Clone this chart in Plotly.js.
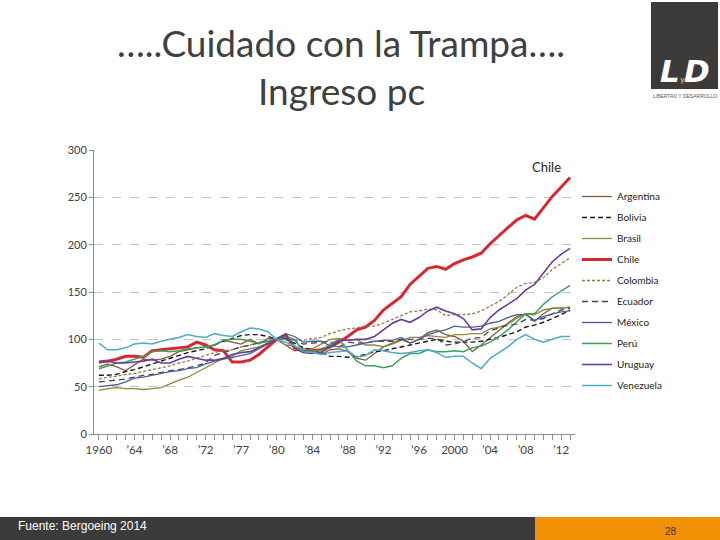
<!DOCTYPE html>
<html><head><meta charset="utf-8">
<script src="https://cdn.plot.ly/plotly-3.0.1.min.js"></script>
<style>html,body{margin:0;padding:0;background:#fff}#chart{width:720px;height:540px}</style>
</head><body><div id="chart"></div>
<script>
const years = [1960,1961,1962,1963,1964,1965,1966,1967,1968,1969,
  1970,1971,1972,1973,1974,1975,1976,1977,1978,1979,
  1980,1981,1982,1983,1984,1985,1986,1987,1988,1989,
  1990,1991,1992,1993,1994,1995,1996,1997,1998,1999,
  2000,2001,2002,2003,2004,2005,2006,2007,2008,2009,
  2010,2011,2012,2013];
const tickYears  = [1960,1964,1968,1972,1976,1980,1984,1988,1992,1996,2000,2004,2008,2012];
const tickLabels = ["1960","’64","’68","’72","’77","’80","’84","’88","’92","’96","2000","’04","’08","’12"];
const yTicks = [0,50,100,150,200,250,300];

const argentina = [71,74,71,67,73,79,78,79,82,87, 89,91,92,94,99,97,95,100,95,101,
  100,94,88,90,90,84,89,90,87,80, 78,85,92,96,100,96,100,107,110,105,
  103,98,87,94,102,110,117,124,127,119, 127,133,133,134];
const bolivia = [62,62,63,66,68,71,74,77,80,83, 86,88,90,94,98,101,104,105,105,103,
  100,100,96,91,89,86,82,82,81,82, 84,87,88,90,92,94,96,98,100,98,
  97,97,97,98,100,102,105,108,113,115, 118,122,126,131];
const brasil = [46,48,49,48,48,47,48,49,53,57, 60,65,70,75,80,82,88,90,92,96,
  100,94,93,88,90,95,100,101,99,100, 94,94,92,95,99,102,102,104,103,102,
  105,105,106,106,111,113,116,122,127,126, 131,133,133,134];
const chile = [76,77,79,82,82,81,88,89,90,91, 92,97,94,89,88,76,76,78,84,92,
  100,105,91,87,88,89,92,97,103,110, 113,120,131,138,145,158,167,175,177,174,
  180,184,187,191,201,210,218,226,231,227, 239,251,261,271];
const colombia = [58,60,61,63,64,66,68,70,72,75, 77,80,83,86,88,89,92,94,97,99,
  100,100,99,99,101,102,106,109,111,112, 114,114,117,121,125,129,130,132,131,125,
  126,126,127,130,135,140,147,155,159,160, 165,174,180,186];
const ecuador = [55,56,57,58,60,62,63,65,67,68, 70,72,75,83,86,89,92,94,96,98,
  100,101,99,95,96,97,98,92,97,96, 96,98,98,98,100,100,100,101,101,94,
  95,98,101,102,109,112,115,116,121,120, 122,127,131,133];
const mexico = [50,51,52,55,59,60,62,64,66,67, 69,70,74,77,79,81,83,85,90,95,
  100,106,103,97,98,98,93,92,92,94, 96,98,99,99,102,96,100,105,108,110,
  114,113,113,114,117,119,123,126,126,120, 124,127,129,130];
const peru = [69,72,75,76,79,82,87,88,87,88, 90,91,92,94,99,100,100,98,96,98,
  100,103,100,87,88,88,95,100,89,77, 72,72,70,72,80,85,85,89,87,87,
  88,87,91,93,97,103,110,119,127,127, 137,145,151,157];
const uruguay = [76,77,75,75,76,77,79,75,75,79, 82,80,78,78,80,84,86,87,91,96,
  100,104,92,86,85,86,92,99,99,100, 100,103,110,117,121,118,123,130,134,130,
  127,122,110,111,123,131,137,143,152,158, 170,182,190,196];
const venezuela = [96,89,89,91,95,96,95,98,100,102, 105,103,102,106,104,103,108,112,111,108,
  100,97,93,87,86,84,86,87,88,81, 83,89,88,86,85,86,88,89,86,81,
  82,82,75,69,80,86,92,100,105,100, 97,100,103,103];

const seriesNames = ["Argentina","Bolivia","Brasil","Chile","Colombia","Ecuador","México","Perú","Uruguay","Venezuela"];
const seriesData = [argentina,bolivia,brasil,chile,colombia,ecuador,mexico,peru,uruguay,venezuela];
const seriesColors = ["#8b5a3c","#1a1a1a","#8a8a3e","#d7282f","#8c7e4a","#3d4660","#4f5f96","#3f9e5e","#6a3f9c","#4bacc6"];
const seriesDash = ["solid","5px,3px","solid","solid","3px,2px","6px,4px","solid","solid","solid","solid"];
const seriesWidth = [1.3,1.4,1.3,3,1.3,1.3,1.3,1.5,1.6,1.5];

// plot frame in pixels
const L=94, R=575, T=150, B=434;
const px = v => (v-L)/(R-L);
const py = v => (B-v)/(B-T);

const tickText = years.map(y => { const i = tickYears.indexOf(y); return i>=0 ? tickLabels[i] : ""; });

const traces = seriesNames.map((n,i)=>({
  type:"scatter", mode:"lines", name:n, x:years, y:seriesData[i],
  line:{color:seriesColors[i], width:seriesWidth[i], dash:seriesDash[i]},
  legendgroup:n
}));

const F = "Lato, 'Open Sans', sans-serif";
const layout = {
  width:720, height:540,
  margin:{l:L, r:720-R, t:T, b:540-B},
  paper_bgcolor:"#fff", plot_bgcolor:"#fff",
  showlegend:true,
  font:{family:F, color:"#404040"},
  title:{text:"…..Cuidado con la Trampa….", x:341/720, xref:"container", xanchor:"center",
    y:1-44/540, yref:"container", yanchor:"middle",
    font:{family:F, size:37, color:"#404040"}},
  legend:{x:px(577), xanchor:"left", y:py(182), yanchor:"top",
    font:{family:F, size:10, color:"#222"}, tracegroupgap:2, bgcolor:"rgba(0,0,0,0)"},
  xaxis:{range:[1959.45,2013.55], tickmode:"array", tickvals:years, ticktext:tickText,
    showgrid:false, zeroline:false, showline:true, linecolor:"#8c8c8c", linewidth:1,
    ticks:"outside", ticklen:5, tickcolor:"#8c8c8c",
    tickfont:{family:F, size:11.5, color:"#404040"}, fixedrange:true},
  yaxis:{range:[0,300], tickmode:"array", tickvals:yTicks, showgrid:true,
    gridcolor:"#c4c4c4", griddash:"dash", gridwidth:1, zeroline:false,
    showline:true, linecolor:"#8c8c8c", linewidth:1, ticks:"outside", ticklen:4, tickcolor:"#8c8c8c",
    tickfont:{family:F, size:11, color:"#404040"}, fixedrange:true},
  shapes:[
    {type:"rect", xref:"paper", yref:"paper", x0:px(0), x1:px(535), y0:py(540), y1:py(517), fillcolor:"#3b3b3b", line:{width:0}},
    {type:"rect", xref:"paper", yref:"paper", x0:px(535), x1:px(720), y0:py(540), y1:py(517), fillcolor:"#f29105", line:{width:0}},
    {type:"rect", xref:"paper", yref:"paper", x0:px(651), x1:px(718), y0:py(89), y1:py(2), fillcolor:"#3d3b39", line:{width:0}}
  ],
  annotations:[
    {text:"Ingreso pc", xref:"paper", yref:"paper", x:px(341), y:py(91), xanchor:"center", yanchor:"middle",
      showarrow:false, font:{family:F, size:37, color:"#404040"}},
    {text:"Chile", xref:"x", yref:"paper", x:2010.3, y:py(167), xanchor:"center", yanchor:"middle",
      showarrow:false, font:{family:F, size:13, color:"#262626"}},
    {text:"Fuente: Bergoeing 2014", xref:"paper", yref:"paper", x:px(16), y:py(526), xanchor:"left", yanchor:"middle",
      showarrow:false, font:{family:"Liberation Sans, Arial, sans-serif", size:12, color:"#ffffff"}},
    {text:"28", xref:"paper", yref:"paper", x:px(671), y:py(531), xanchor:"center", yanchor:"middle",
      showarrow:false, font:{family:"Liberation Sans, Arial, sans-serif", size:10, color:"#333"}},
    {text:"<b><i>L</i></b>", xref:"paper", yref:"paper", x:px(670), y:py(71), xanchor:"center", yanchor:"middle",
      showarrow:false, font:{family:"DejaVu Sans, sans-serif", size:31, color:"#ffffff"}},
    {text:"<b><i>D</i></b>", xref:"paper", yref:"paper", x:px(697), y:py(71), xanchor:"center", yanchor:"middle",
      showarrow:false, font:{family:"DejaVu Sans, sans-serif", size:31, color:"#ffffff"}},
    {text:"<b>y</b>", xref:"paper", yref:"paper", x:px(682.5), y:py(80), xanchor:"center", yanchor:"middle",
      showarrow:false, font:{family:"DejaVu Sans, sans-serif", size:7, color:"#e8a020"}},
    {text:"LIBERTAD Y DESARROLLO", xref:"paper", yref:"paper", x:px(685), y:py(96), xanchor:"center", yanchor:"middle",
      showarrow:false, font:{family:"Liberation Sans, Arial, sans-serif", size:5, color:"#555"}}
  ]
};

Plotly.newPlot("chart", traces, layout, {displayModeBar:false, staticPlot:true});
</script></body></html>
